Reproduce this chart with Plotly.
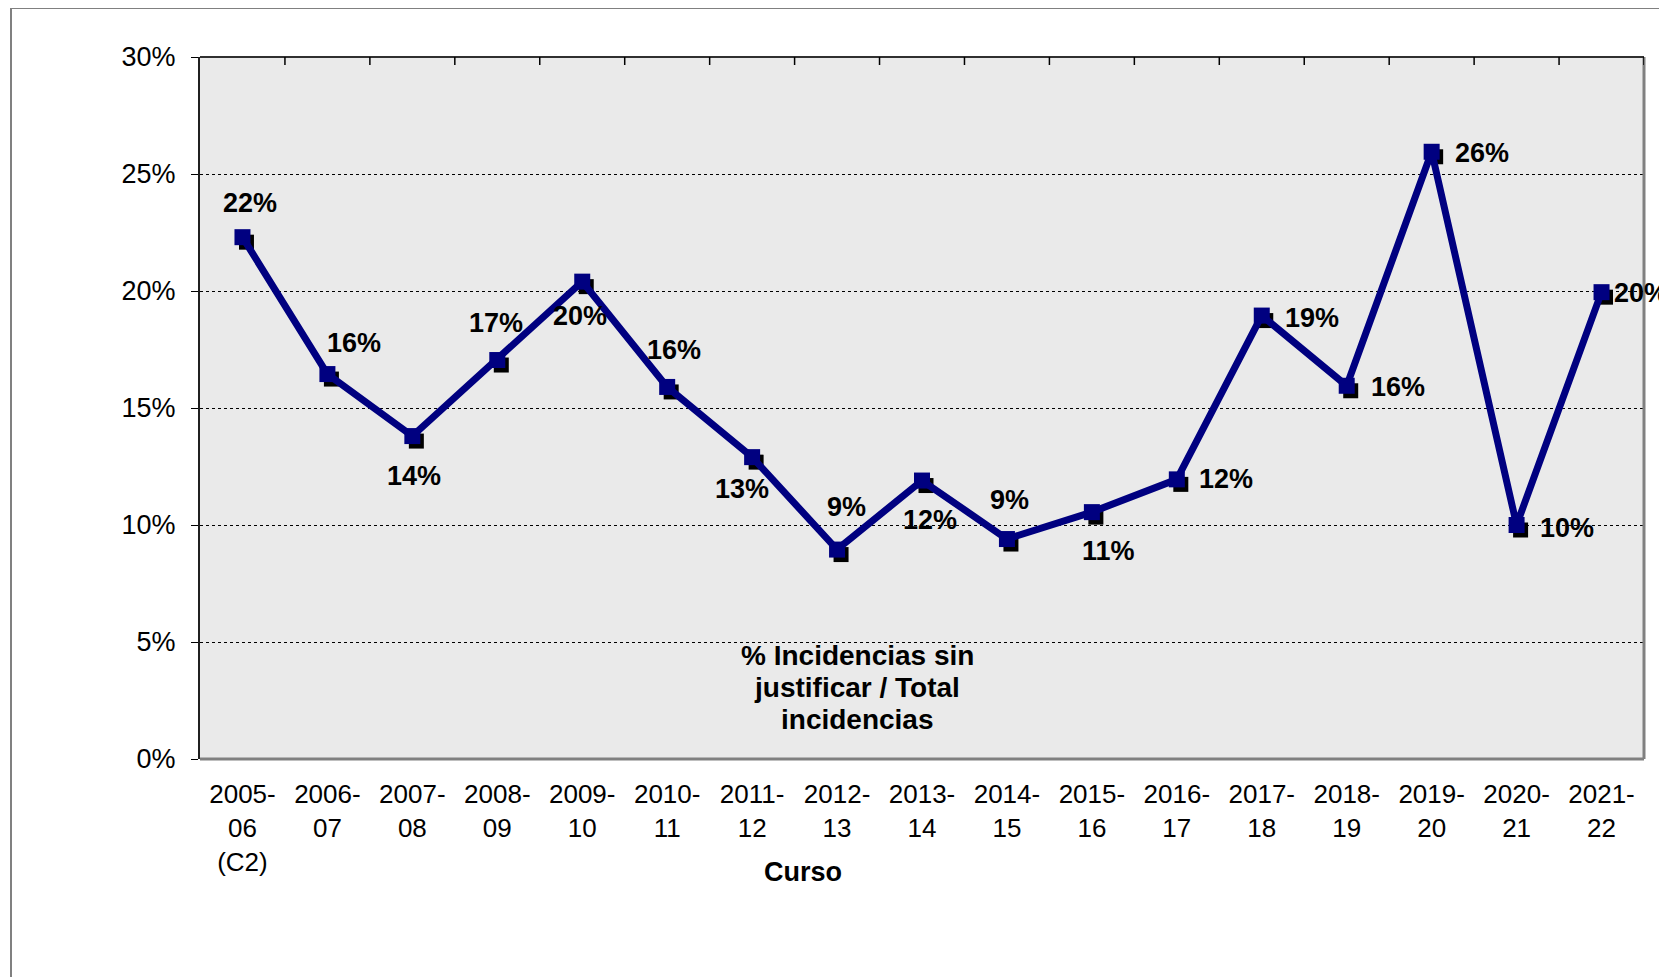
import numpy as np
import plotly.graph_objects as go

# ---- data ----
cursos = ["2005-<br>06<br>(C2)", "2006-<br>07", "2007-<br>08", "2008-<br>09", "2009-<br>10",
          "2010-<br>11", "2011-<br>12", "2012-<br>13", "2013-<br>14", "2014-<br>15",
          "2015-<br>16", "2016-<br>17", "2017-<br>18", "2018-<br>19", "2019-<br>20",
          "2020-<br>21", "2021-<br>22"]
pct_sin_justificar = [22.3, 16.45, 13.8, 17.05, 20.4, 15.9, 12.9, 8.95, 11.9, 9.4,
                      10.55, 11.95, 18.95, 15.95, 25.95, 10.0, 19.95]
y_ticks = [0, 5, 10, 15, 20, 25, 30]
series_name_lines = ["% Incidencias sin", "justificar / Total", "incidencias"]
x_title = "Curso"

# ---- style ----
label_shift = [(8, 34), (27, 31), (2, -40), (-1, 37), (-2, -34), (7, 37), (-10, -32),
               (9, 43), (8, -39), (3, 39), (17, -39), (49, 0), (50, -2), (51, -1),
               (50, -1), (50, -3), (39, -1)]
FONT = "Liberation Sans, Arial, sans-serif"
NAVY = "#000080"

OFF = 8                      # page body margin
W, H = 1667 - OFF, 977 - OFF
PX0, PX1, PY0, PY1 = 200, 1644, 57, 759   # plot area in screen px
ML, MT = PX0 - OFF, PY0 - OFF
PW, PH = PX1 - PX0, PY1 - PY0
MR, MB = W - ML - PW, H - MT - PH


def px_x(sx):
    return (sx - PX0) / PW


def px_y(sy):
    return (PY1 - sy) / PH


n = len(cursos)
x = np.arange(n)
y = np.array(pct_sin_justificar)

cat_px = PW / n
unit_px = PH / 30.0
shadow_dx = 4 / cat_px
shadow_dy = 5 / unit_px

fig = go.Figure()
fig.add_trace(go.Scatter(x=x + shadow_dx, y=y - shadow_dy, mode="markers",
                         marker=dict(symbol="square", size=15, color="black"),
                         hoverinfo="skip", showlegend=False))
fig.add_trace(go.Scatter(x=x, y=y, mode="lines+markers", name="<br>".join(series_name_lines),
                         line=dict(color=NAVY, width=7),
                         marker=dict(symbol="square", size=16, color=NAVY),
                         showlegend=False))

annotations = []
for i, v in enumerate(pct_sin_justificar):
    dx, dy = label_shift[i]
    annotations.append(dict(x=x[i], y=v, xref="x", yref="y", text=f"{round(v)}%",
                            showarrow=False, xshift=dx, yshift=dy,
                            xanchor="center", yanchor="middle",
                            font=dict(family=FONT, size=27, color="black", weight="bold")))
for k, line in enumerate(series_name_lines):
    annotations.append(dict(x=px_x(857), y=px_y(655 + 32 * k), xref="paper", yref="paper",
                            text=line, showarrow=False, xanchor="center", yanchor="middle",
                            font=dict(family=FONT, size=28, color="black", weight="bold")))
annotations.append(dict(x=px_x(803), y=px_y(872), xref="paper", yref="paper",
                        text=x_title, showarrow=False, xanchor="center", yanchor="middle",
                        font=dict(family=FONT, size=27, color="black", weight="bold")))

shapes = []
shapes.append(dict(type="rect", xref="paper", yref="paper",
                   x0=px_x(11), x1=px_x(1700), y0=px_y(1010), y1=px_y(8),
                   line=dict(color="#808080", width=2), fillcolor="rgba(0,0,0,0)", layer="below"))
shapes.append(dict(type="line", xref="paper", yref="paper", x0=1, x1=1, y0=0, y1=1,
                   line=dict(color="#808080", width=3)))
shapes.append(dict(type="line", xref="paper", yref="paper", x0=0, x1=1, y0=0, y1=0,
                   line=dict(color="#808080", width=3)))
shapes.append(dict(type="line", xref="paper", yref="paper", x0=0, x1=1, y0=1, y1=1,
                   line=dict(color="#303030", width=2)))
for i in range(1, n + 1):
    shapes.append(dict(type="line", xref="x", yref="paper", x0=i - 0.5, x1=i - 0.5,
                       y0=1, y1=1 - 8 / PH, line=dict(color="black", width=1.5)))

fig.update_layout(
    width=W, height=H, autosize=False,
    margin=dict(l=ML, r=MR, t=MT, b=MB),
    paper_bgcolor="white", plot_bgcolor="#eaeaea",
    annotations=annotations, shapes=shapes,
    showlegend=False,
)
fig.update_xaxes(range=[-0.5, n - 0.5], tickmode="array", tickvals=x, ticktext=cursos,
                 ticks="", showgrid=False, zeroline=False, showline=False,
                 tickfont=dict(family=FONT, size=26, color="black"),
                 ticklabelstandoff=17)
fig.update_yaxes(range=[0, 30], tickmode="array", tickvals=y_ticks,
                 ticktext=[f"{t}%" for t in y_ticks],
                 ticks="outside", ticklen=7, tickcolor="black", tickwidth=1,
                 showline=True, linecolor="#202020", linewidth=2,
                 showgrid=True, gridcolor="black", gridwidth=1, griddash="dot",
                 zeroline=False,
                 tickfont=dict(family=FONT, size=27, color="black"),
                 ticklabelstandoff=10)

fig.write_html("out.html")
